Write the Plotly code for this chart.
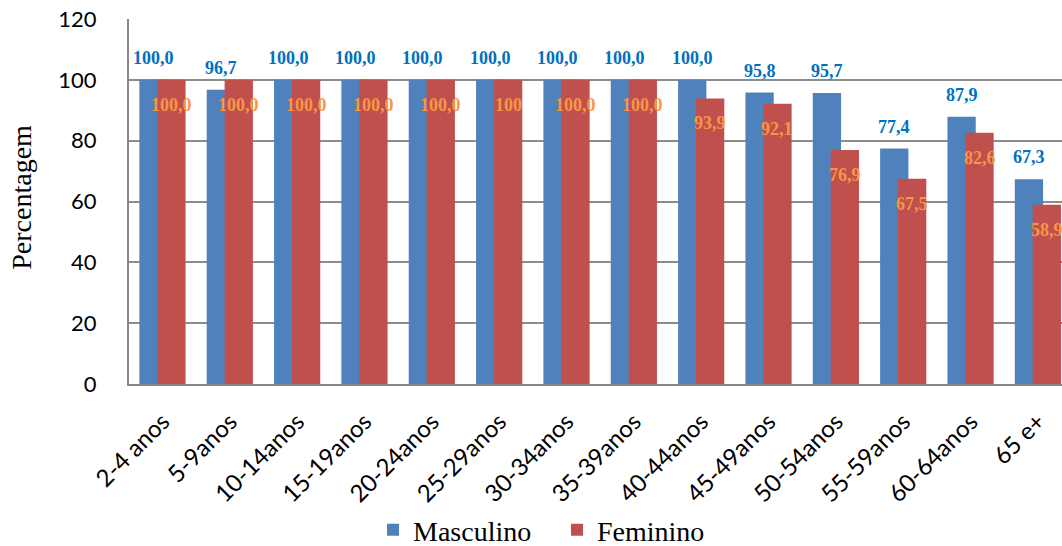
import plotly.graph_objects as go

# Age groups and percentages by sex
categorias = ["2-4 anos", "5-9anos", "10-14anos", "15-19anos", "20-24anos",
              "25-29anos", "30-34anos", "35-39anos", "40-44anos", "45-49anos",
              "50-54anos", "55-59anos", "60-64anos", "65 e+"]
masculino = [100.0, 96.7, 100.0, 100.0, 100.0, 100.0, 100.0, 100.0,
             100.0, 95.8, 95.7, 77.4, 87.9, 67.3]
feminino = [100.0, 100.0, 100.0, 100.0, 100.0, 100.0, 100.0, 100.0,
            93.9, 92.1, 76.9, 67.5, 82.6, 58.9]
# decimals shown on each Feminino label
feminino_casas = [1, 1, 1, 1, 1, 0, 1, 1, 1, 1, 1, 1, 1, 1]

y_ticks = [0, 20, 40, 60, 80, 100, 120]

AZUL = "#4F81BD"
VERMELHO = "#C0504D"
TXT_AZUL = "#0070C0"
TXT_LARANJA = "#F79646"
SERIF = "Liberation Serif, Times New Roman, serif"
SANS = "Lato, Open Sans, sans-serif"


def fmt(v, casas=1):
    return f"{v:.{casas}f}".replace(".", ",")


x = list(range(len(categorias)))
largura = 0.42
off_m = -0.346
off_f = -0.08

fig = go.Figure()
fig.add_trace(go.Bar(
    name="Masculino", x=x, y=masculino, marker_color=AZUL,
    width=largura, offset=off_m, marker_line_width=0,
))
fig.add_trace(go.Bar(
    name="Feminino", x=x, y=feminino, marker_color=VERMELHO,
    width=largura, offset=off_f, marker_line_width=0,
))

annotations = []
for i, v in enumerate(masculino):
    annotations.append(dict(
        x=i + off_m + largura / 2, y=v, xref="x", yref="y",
        text=fmt(v), showarrow=False, yanchor="middle", yshift=22,
        font=dict(family=SERIF, size=18, color=TXT_AZUL, weight="bold"),
    ))
for i, v in enumerate(feminino):
    annotations.append(dict(
        x=i + off_f + largura / 2, y=v, xref="x", yref="y",
        text=fmt(v, feminino_casas[i]), showarrow=False, yanchor="middle", yshift=-25,
        font=dict(family=SERIF, size=18, color=TXT_LARANJA, weight="bold"),
    ))
annotations.append(dict(
    x=-0.1147, y=0.513, xref="paper", yref="paper", text="Percentagem",
    textangle=-90, showarrow=False, xanchor="center", yanchor="middle",
    font=dict(family=SERIF, size=28, color="#000000"),
))

fig.update_layout(
    width=1062, height=546,
    margin=dict(l=129, r=0, t=19, b=162, autoexpand=False),
    paper_bgcolor="white", plot_bgcolor="white",
    barmode="overlay",
    showlegend=True,
    legend=dict(
        orientation="h", xref="container", yref="container",
        x=0.5245, y=0.029, xanchor="center", yanchor="middle",
        font=dict(family=SERIF, size=28, color="#000000"),
        itemwidth=30, traceorder="normal",
        entrywidth=139, entrywidthmode="pixels",
    ),
    annotations=annotations,
)
fig.update_xaxes(
    range=[-0.5, 13.355], tickmode="array", tickvals=x, ticktext=categorias,
    tickangle=-45, showgrid=False, zeroline=False, automargin=False,
    showline=True, linecolor="#878787", linewidth=2,
    ticks="", ticklabelstandoff=12,
    tickfont=dict(family=SANS, size=24, color="#000000"),
)
fig.update_yaxes(
    range=[0, 120], tickmode="array", tickvals=y_ticks,
    showgrid=True, gridcolor="#8C8C8C", gridwidth=1.5, zeroline=False,
    automargin=False,
    showline=True, linecolor="#878787", linewidth=2,
    ticks="", ticklabelstandoff=26,
    tickfont=dict(family=SANS, size=22, color="#000000"),
)

fig.write_html("out.html")
